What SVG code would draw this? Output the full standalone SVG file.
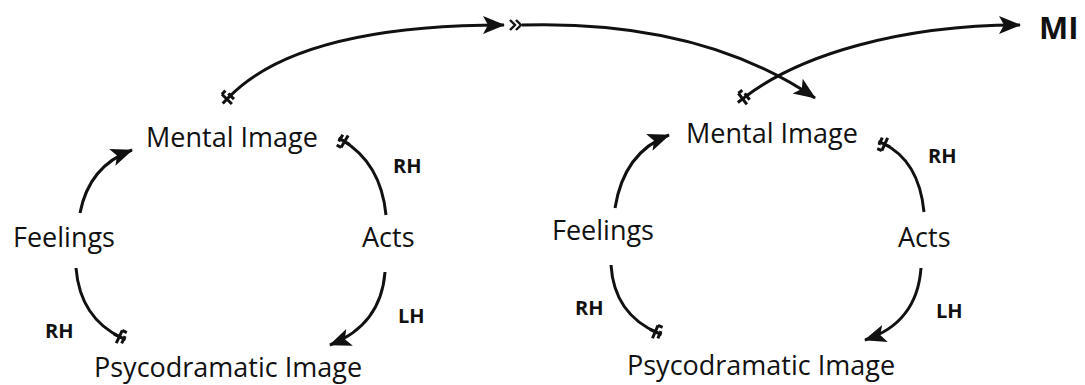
<svg xmlns="http://www.w3.org/2000/svg" width="1085" height="385" viewBox="0 0 1085 385">
  <style>
    .lbl { font-family: "Open Sans", "Liberation Sans", sans-serif; font-size: 27px; fill: #111; }
    .tag { font-family: "Open Sans", "Liberation Sans", sans-serif; font-size: 20px; font-weight: bold; fill: #111; }
    .big { font-family: "Open Sans", "Liberation Sans", sans-serif; font-size: 31px; font-weight: bold; fill: #111; }
    .arc { fill: none; stroke: #111; stroke-width: 3; }
  </style>
  <defs>
    <marker id="head" viewBox="-24 -11 26 22" markerWidth="26" markerHeight="22" refX="0" refY="0" orient="auto" markerUnits="userSpaceOnUse">
      <path d="M1,0 L-21,-9 L-16,0 L-21,9 Z" fill="#111"/>
    </marker>
    <marker id="fletch" viewBox="-12 -12 24 24" markerWidth="24" markerHeight="24" refX="0" refY="0" orient="auto" markerUnits="userSpaceOnUse">
      <path d="M-3,-7 L-3,7 M-3,-7 L2,-7 M2,-3 L2,5 M-9,0 L4,0" fill="none" stroke="#111" stroke-width="3"/>
    </marker>
  </defs>
  <rect width="1085" height="385" fill="#fff"/>

  <g id="connectors">
    <!-- left loop -->
    <path class="arc" d="M80,213 Q89,166 132,150" marker-end="url(#head)"/>
    <path class="arc" d="M76,268 Q80,318 122,338" marker-end="url(#fletch)"/>
    <path class="arc" d="M386,215 Q381,163 342,140" marker-end="url(#fletch)"/>
    <path class="arc" d="M385,272 Q381,325 330,345" marker-end="url(#head)"/>
    <!-- right loop -->
    <path class="arc" d="M615,208 Q624,152 669,135" marker-end="url(#head)"/>
    <path class="arc" d="M611,265 Q614,314 658,333" marker-end="url(#fletch)"/>
    <path class="arc" d="M924,212 Q919,160 882,143" marker-end="url(#fletch)"/>
    <path class="arc" d="M921,268 Q917,323 865,340" marker-end="url(#head)"/>
    <!-- top links -->
    <path class="arc" d="M229,97 C280,45 380,25 504,25" marker-start="url(#fletch)" marker-end="url(#head)"/>
    <path d="M510,20 L515,25 L510,30 M516,20 L521,25 L516,30" fill="none" stroke="#111" stroke-width="2.4"/>
    <path class="arc" d="M522,25 C625,22 730,40 815,98" marker-end="url(#head)"/>
    <path class="arc" d="M745,97 C800,55 900,25 1020,25" marker-start="url(#fletch)" marker-end="url(#head)"/>
  </g>

  <g id="mental-image-1"><text class="lbl" x="146" y="147">Mental Image</text></g>
  <g id="feelings-1"><text class="lbl" x="13" y="247">Feelings</text></g>
  <g id="acts-1"><text class="lbl" x="362" y="247">Acts</text></g>
  <g id="psycodramatic-image-1"><text class="lbl" x="94" y="377">Psycodramatic Image</text></g>

  <g id="mental-image-2"><text class="lbl" x="686" y="143">Mental Image</text></g>
  <g id="feelings-2"><text class="lbl" x="552" y="240">Feelings</text></g>
  <g id="acts-2"><text class="lbl" x="898" y="247">Acts</text></g>
  <g id="psycodramatic-image-2"><text class="lbl" x="627" y="375">Psycodramatic Image</text></g>

  <g id="mi"><text class="big" x="1039" y="39">MI</text></g>

  <g id="labels">
    <text class="tag" x="393" y="173">RH</text>
    <text class="tag" x="45" y="338">RH</text>
    <text class="tag" x="398" y="323">LH</text>
    <text class="tag" x="928" y="163">RH</text>
    <text class="tag" x="575" y="315">RH</text>
    <text class="tag" x="936" y="318">LH</text>
  </g>
</svg>
